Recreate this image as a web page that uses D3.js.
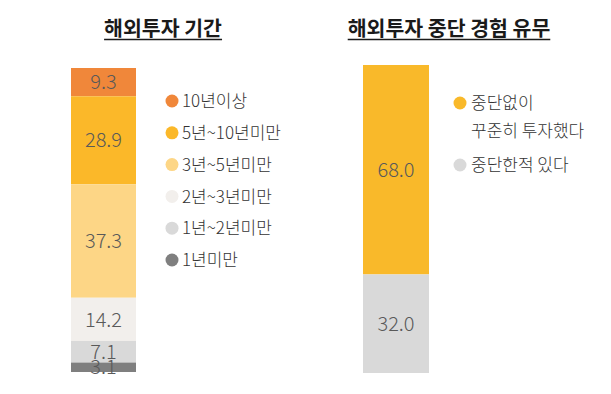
<!DOCTYPE html>
<html>
<head>
<meta charset="utf-8">
<script src="https://cdn.jsdelivr.net/npm/d3@7"></script>
<style>
  body { margin: 0; background: #fff; }
  text { font-family: "Noto Sans CJK KR", "Noto Sans", sans-serif; }
</style>
</head>
<body>
<div id="chart"></div>
<script>
// 해외투자 기간 (top to bottom)
const periodLabels = ['10년이상', '5년~10년미만', '3년~5년미만', '2년~3년미만', '1년~2년미만', '1년미만'];
const periodValues = [9.3, 28.9, 37.3, 14.2, 7.1, 3.1];
const periodColors = ['#F0873A', '#FBB829', '#FDD686', '#F2EFEC', '#D9D9D9', '#7F7F7F'];

// 해외투자 중단 경험 유무
const stopLabels = [['중단없이', '꾸준히 투자했다'], ['중단한적 있다']];
const stopValues = [68.0, 32.0];
const stopColors = ['#F9B92A', '#D9D9D9'];

const width = 611, height = 394;

const svg = d3.select('#chart')
    .append('svg')
    .attr('width', width)
    .attr('height', height);

// stack helper
function stack(values) {
    let acc = 0;
    return values.map(v => {
        const s = { y0: acc, y1: acc + v, v: v };
        acc += v;
        return s;
    });
}

function drawBar(values, colors, x0, x1, top, bottom) {
    const total = d3.sum(values);
    const y = d3.scaleLinear().domain([0, total]).range([top, bottom]);
    const g = svg.append('g');
    const segs = stack(values);
    g.selectAll('rect')
        .data(segs)
        .enter()
        .append('rect')
        .attr('x', x0)
        .attr('width', x1 - x0)
        .attr('y', d => y(d.y0))
        .attr('height', d => y(d.y1) - y(d.y0))
        .attr('fill', (d, i) => colors[i]);
    g.selectAll('text')
        .data(segs)
        .enter()
        .append('text')
        .attr('x', (x0 + x1) / 2)
        .attr('y', d => (y(d.y0) + y(d.y1)) / 2)
        .attr('dy', '0.36em')
        .attr('text-anchor', 'middle')
        .style('font-size', '20px')
        .style('font-weight', 300)
        .style('fill', '#595959')
        .text(d => d.v.toFixed(1));
}

function title(txt, cx) {
    const t = svg.append('text')
        .attr('x', cx)
        .attr('y', 36)
        .attr('text-anchor', 'middle')
        .style('font-size', '20.5px')
        .style('font-weight', 'bold')
        .style('fill', '#1a1a1a')
        .text(txt);
    const bb = t.node().getBBox();
    svg.append('line')
        .attr('x1', bb.x).attr('x2', bb.x + bb.width)
        .attr('y1', 39.5).attr('y2', 39.5)
        .attr('stroke', '#1a1a1a')
        .attr('stroke-width', 1.5);
}

title('해외투자 기간', 163);
title('해외투자 중단 경험 유무', 449);

drawBar(periodValues, periodColors, 71, 136, 68, 372);
drawBar(stopValues, stopColors, 363, 429, 65, 373);

// left legend
const leg1 = svg.append('g');
const legY = d3.scalePoint().domain(periodLabels).range([101, 260]);
leg1.selectAll('circle')
    .data(periodLabels)
    .enter()
    .append('circle')
    .attr('cx', 172)
    .attr('cy', d => legY(d))
    .attr('r', 6.5)
    .attr('fill', (d, i) => periodColors[i]);
leg1.selectAll('text')
    .data(periodLabels)
    .enter()
    .append('text')
    .attr('x', 182)
    .attr('y', d => legY(d))
    .attr('dy', '0.36em')
    .style('font-size', '17px')
    .style('font-weight', 300)
    .style('fill', '#333')
    .text(d => d);

// right legend
const leg2 = svg.append('g');
const leg2Y = [103, 165];
stopLabels.forEach((lines, i) => {
    leg2.append('circle')
        .attr('cx', 460)
        .attr('cy', leg2Y[i])
        .attr('r', 6.5)
        .attr('fill', stopColors[i]);
    lines.forEach((ln, j) => {
        leg2.append('text')
            .attr('x', 471)
            .attr('y', leg2Y[i] + j * 28)
            .attr('dy', '0.36em')
            .style('font-size', '17px')
            .style('font-weight', 300)
            .style('fill', '#333')
            .text(ln);
    });
});
</script>
</body>
</html>
